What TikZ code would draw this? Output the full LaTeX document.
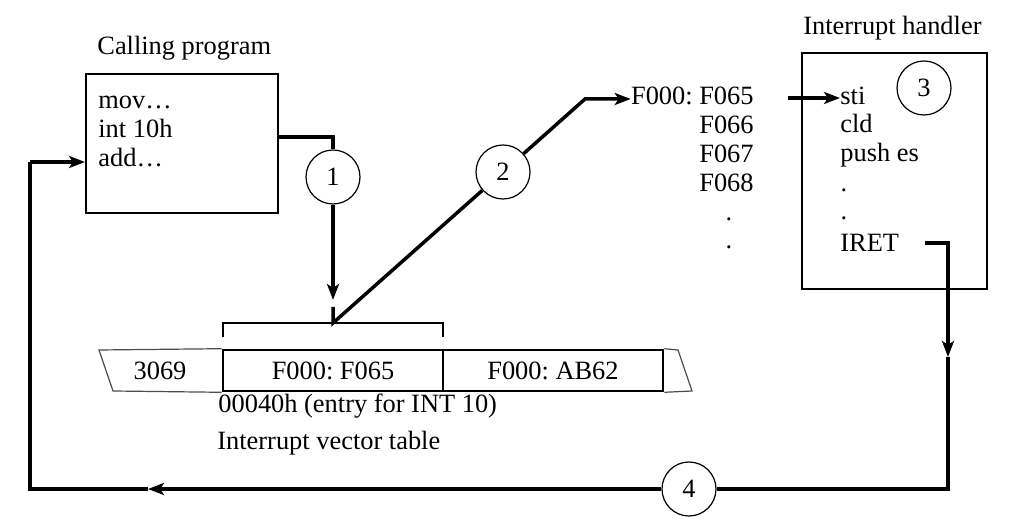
\documentclass[tikz,border=0pt]{standalone}
\usepackage{fontspec}
\setmainfont{Liberation Serif}
\usepackage{tikz}
\usetikzlibrary{positioning, arrows.meta}
\frenchspacing

\begin{document}
\begin{tikzpicture}[x=0.5pt, y=-0.5pt]

	% Styles
	\tikzset{
		txt/.style={inner sep=0pt, font=\fontsize{13.2pt}{15pt}\selectfont},
		codeline/.style={txt, anchor=base west},
		addrline/.style={txt, anchor=base east},
		progbox/.style={rectangle, draw, line width=1pt, inner sep=0pt},
		cellbox/.style={rectangle, draw, line width=1.3pt, inner sep=0pt,
			minimum width=110pt, minimum height=20.5pt, txt},
		stepnum/.style={circle, draw, line width=0.6pt, fill=white,
			minimum size=27pt, inner sep=0pt, txt},
		flow/.style={line width=1.75pt},
		flowarrow/.style={flow, -{Stealth[length=8pt, width=6pt, inset=2pt]}},
		thinline/.style={line width=0.6pt}
	}

	\useasboundingbox (0,0) rectangle (1024,523);

	% Calling program
	\node[codeline] (callname) at (97,55) {Calling program};
	\node[progbox, minimum width=96pt, minimum height=69.5pt] (callbox) at (182,143.5) {};
	\node[codeline] (mov) at (98,109) {mov…};
	\node[codeline] (int) at (98,138) {int 10h};
	\node[codeline] (add) at (98,167) {add…};

	% Interrupt vector table
	\node[cellbox] (vecA) at (333,370.5) {F000: F065};
	\node[cellbox] (vecB) at (553,370.5) {F000: AB62};
	\node[txt] (prev) at (160,370.5) {3069};
	\draw[thinline, black!70] (vecA.north west) -- (99,350) -- (113,391) -- (vecA.south west);
	\draw[thinline, black!70] (vecB.north east) -- (678,350) -- (692,391) -- (vecB.south east);
	\draw[thinline] (223,337) -- (223,323) -- (443,323) -- (443,337);
	\node[codeline] (entry) at (218,413) {00040h (entry for INT 10)};
	\node[codeline] (vectab) at (217,450) {Interrupt vector table};

	% Handler addresses
	\node[addrline] (f65) at (754,105) {F000: F065};
	\node[addrline] (f66) at (754,134) {F066};
	\node[addrline] (f67) at (754,163) {F067};
	\node[addrline] (f68) at (754,192) {F068};
	\node[txt] (adot1) at (729,219) {.};
	\node[txt] (adot2) at (729,247) {.};

	% Interrupt handler
	\node[codeline] (hname) at (803,35) {Interrupt handler};
	\node[progbox, minimum width=92.5pt, minimum height=118pt] (hbox) at (894.5,171) {};
	\node[codeline] (sti) at (840,105) {sti};
	\node[codeline] (cld) at (840,133) {cld};
	\node[codeline] (push) at (840,162) {push es};
	\node[txt] (hdot1) at (844,190) {.};
	\node[txt] (hdot2) at (844,218) {.};
	\node[codeline] (iret) at (840,252) {IRET};

	% Step numbers
	\node[stepnum] (s1) at (333,177) {1};
	\node[stepnum] (s2) at (503,172) {2};
	\node[stepnum] (s3) at (924,88) {3};
	\node[stepnum] (s4) at (689,489) {4};

	% Helper points
	\coordinate (callout) at (278,137);
	\coordinate (vecin) at (333,300);
	\coordinate (brk) at (333,323);
	\coordinate (brktop) at (333,307);
	\coordinate (bend) at (585,99);
	\coordinate (iretout) at (925,243);
	\coordinate (rdown) at (948,357);
	\coordinate (rbot) at (948,489);
	\coordinate (lbot) at (30,489);
	\coordinate (botmid) at (148,489);
	\coordinate (ltop) at (30,162);
	\coordinate (addin) at (85,162);

	% Step 1: int 10h reads the vector
	\draw[flow] (callout) -| (s1.north);
	\draw[flowarrow] (s1.south) -- (vecin);

	% Step 2: jump to the handler
	\draw[flowarrow] (brktop) -- (brk) -- (s2) -- (bend) -- (f65.west |- bend);
	\draw[flowarrow] (788,98) -- (sti.west |- 0,98);

	% Step 4: IRET returns
	\draw[flowarrow] (iretout) -| (rdown);
	\draw[flow] (rdown) -- (rbot) -- (s4.east);
	\draw[flowarrow] (s4.west) -- (botmid);
	\draw[flow] (botmid) -- (lbot) -- (ltop);
	\draw[flowarrow] (ltop) -- (addin);

\end{tikzpicture}
\end{document}
